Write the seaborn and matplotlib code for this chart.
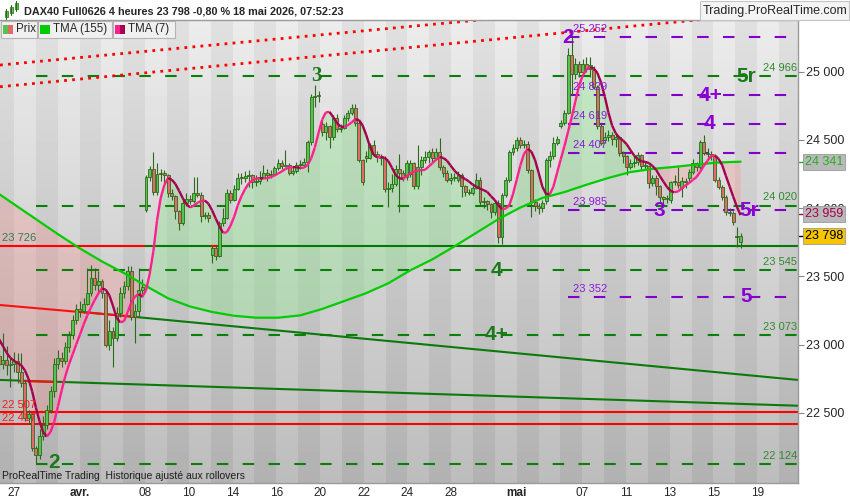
import numpy as np
import pandas as pd
import matplotlib
matplotlib.use("Agg")
import matplotlib.pyplot as plt
import seaborn as sns
from matplotlib.collections import LineCollection
from matplotlib.patches import Rectangle

sns.set_style("white")
plt.rcParams["font.family"] = ["Liberation Sans", "DejaVu Sans"]

# ==========================
# DAX40 4h bars : 25 mars (4 last bars, off-screen) -> 18 mai
# ==========================
opens = [
    23170, 23150, 23130, 23100,                      # 25 mars
    23060, 22990, 22920, 22860, 22890, 22850,        # 26
    22860, 22880, 22800, 22720, 22460, 22490,        # 27
    22240, 22190, 22330, 22410, 22520, 22660,        # 30
    22860, 22900, 22880, 22980, 23070, 23180,        # 31
    23260, 23250, 23300, 23380, 23490, 23440,        # 01 avr
    23470, 23380, 23000, 23100, 23050, 23230,        # 02
    23380, 23430, 23540, 23200, 23250, 23400,        # 07
    23985, 24227, 24290, 24120, 24250, 24260,        # 08
    24240, 24110, 24090, 23980, 23890, 24040,        # 09
    24070, 24050, 24110, 24100, 23940, 23950,        # 10
    23660, 23710, 23650, 23890, 23930, 24110,        # 13
    24060, 24140, 24225, 24220, 24235, 24240,        # 14
    24190, 24200, 24230, 24260, 24240, 24250,        # 15
    24295, 24330, 24310, 24320, 24260, 24270,        # 16
    24320, 24320, 24340, 24485, 24814, 24820,        # 17
    24620, 24560, 24600, 24520, 24660, 24580,        # 20
    24590, 24660, 24700, 24735, 24625, 24355,        # 21
    24380, 24370, 24460, 24400, 24380, 24365,        # 22
    24140, 24150, 24180, 24290, 24260, 24230,        # 23
    24250, 24330, 24160, 24300, 24350, 24375,        # 24
    24410, 24370, 24410, 24300, 24260, 24210,        # 27
    24220, 24210, 24240, 24160, 24120, 24115,        # 28
    24150, 24210, 24045, 24050, 24030, 23970,        # 29
    24040, 23790, 24095, 24205, 24410, 24440,        # 30
    24500, 24460, 24470, 24280, 24045, 24020,        # 04 mai
    24000, 24050, 24350, 24380, 24475, 24600,        # 05
    24625, 24700, 25120, 24980, 25060, 25000,        # 06
    25060, 25020, 25010, 24890, 24600, 24500,        # 07
    24520, 24540, 24510, 24520, 24405, 24380,        # 08
    24300, 24330, 24340, 24390, 24310, 24310,        # 11
    24185, 24220, 24160, 24085, 24070, 24060,        # 12
    24190, 24195, 24150, 24200, 24220, 24265,        # 13
    24330, 24300, 24485, 24405, 24400, 24380,        # 14
    24210, 24155, 24085, 23975, 23965, 23795,        # 15
    23755,                                           # 18
]
highs = [
    23200, 23180, 23160, 23130,
    23090, 23020, 22960, 23085, 22990, 22900,
    22950, 22940, 22940, 22740, 22520, 22500,
    22260, 22380, 22480, 22560, 22700, 22900,
    22960, 22950, 23020, 23100, 23220, 23300,
    23320, 23340, 23560, 23585, 23560, 23540,
    23480, 23400, 23180, 23130, 23280, 23420,
    23470, 23580, 23580, 23300, 23560, 23480,
    24240, 24310, 24412, 24330, 24290, 24280,
    24250, 24140, 24100, 23990, 24060, 24110,
    24100, 24228, 24230, 24120, 23970, 23970,
    23726, 23726, 23910, 24000, 24140, 24130,
    24170, 24260, 24260, 24270, 24280, 24250,
    24240, 24270, 24316, 24290, 24280, 24310,
    24360, 24350, 24427, 24330, 24300, 24340,
    24350, 24370, 24500, 24840, 24902, 24860,
    24640, 24630, 24610, 24680, 24690, 24620,
    24680, 24720, 24760, 24760, 24640, 24360,
    24420, 24480, 24500, 24420, 24400, 24380,
    24190, 24250, 24320, 24400, 24280, 24350,
    24350, 24340, 24463, 24380, 24420, 24430,
    24440, 24440, 24514, 24320, 24280, 24260,
    24260, 24270, 24260, 24170, 24140, 24170,
    24260, 24230, 24080, 24060, 24040, 24060,
    24060, 24110, 24230, 24430, 24470, 24520,
    24520, 24500, 24490, 24290, 24070, 24040,
    24060, 24370, 24420, 24520, 24530, 24650,
    24720, 25175, 25252, 25100, 25080, 25090,
    25105, 25110, 25040, 24900, 24620, 24560,
    24570, 24560, 24550, 24530, 24420, 24390,
    24360, 24380, 24410, 24400, 24340, 24320,
    24240, 24240, 24170, 24090, 24100, 24200,
    24240, 24300, 24230, 24220, 24290, 24360,
    24340, 24500, 24536, 24440, 24420, 24400,
    24230, 24170, 24100, 24000, 23980, 23862,
    23820,
]
lows = [
    23120, 23090, 23070, 23030,
    22960, 22890, 22800, 22820, 22780, 22690,
    22800, 22720, 22690, 22440, 22420, 22220,
    22124, 22160, 22300, 22380, 22500, 22620,
    22820, 22840, 22860, 22950, 23040, 23150,
    23200, 23230, 23290, 23360, 23400, 23380,
    23340, 22980, 22960, 22840, 23030, 23200,
    23340, 23400, 23180, 23010, 23200, 23350,
    23970, 24200, 24100, 24100, 24200, 24180,
    24080, 24060, 23920, 23840, 23880, 24020,
    24030, 24040, 24080, 23900, 23920, 23900,
    23600, 23620, 23640, 23870, 23920, 24040,
    24050, 24130, 24180, 24190, 24155, 24150,
    24160, 24180, 24220, 24200, 24220, 24240,
    24280, 24290, 24300, 24240, 24240, 24260,
    24290, 24300, 24264, 24460, 24741, 24780,
    24530, 24500, 24441, 24500, 24560, 24560,
    24580, 24640, 24680, 24600, 24340, 24170,
    24340, 24360, 24380, 24340, 24320, 24120,
    24008, 24120, 24160, 23972, 24200, 24210,
    24230, 24140, 24140, 24240, 24330, 24330,
    24340, 24350, 24280, 24230, 24190, 24180,
    24200, 24190, 24081, 24090, 24100, 24100,
    24140, 24020, 24000, 23990, 23930, 23950,
    23745, 23740, 24080, 24190, 24390, 24420,
    24440, 24440, 24260, 23935, 23980, 23960,
    23970, 24030, 24300, 24360, 24460, 24590,
    24610, 24690, 24830, 24950, 24960, 24980,
    25000, 24960, 24870, 24580, 24460, 24480,
    24490, 24460, 24450, 24380, 24330, 24240,
    24290, 24300, 24320, 24280, 24290, 24150,
    24160, 24100, 24045, 24030, 24040, 24040,
    24170, 24150, 24080, 24150, 24200, 24250,
    24270, 24290, 24390, 24370, 24350, 24190,
    24140, 24060, 23950, 23940, 23880, 23716,
    23710,
]
closes = [
    23150, 23130, 23100, 23060,
    22990, 22920, 22860, 22890, 22850, 22860,
    22880, 22800, 22720, 22460, 22490, 22240,
    22190, 22330, 22410, 22520, 22660, 22860,
    22900, 22880, 22980, 23070, 23180, 23260,
    23250, 23300, 23380, 23490, 23440, 23470,
    23380, 23000, 23100, 23050, 23230, 23380,
    23430, 23540, 23200, 23250, 23400, 23420,
    24227, 24290, 24120, 24250, 24260, 24240,
    24110, 24090, 23980, 23890, 24040, 24070,
    24050, 24110, 24100, 23940, 23950, 23930,
    23710, 23650, 23890, 23930, 24110, 24060,
    24140, 24225, 24220, 24235, 24240, 24190,
    24200, 24230, 24260, 24240, 24250, 24295,
    24330, 24310, 24320, 24260, 24270, 24320,
    24320, 24340, 24485, 24814, 24820, 24830,
    24560, 24600, 24520, 24660, 24580, 24590,
    24660, 24700, 24735, 24625, 24355, 24195,
    24370, 24460, 24400, 24380, 24365, 24140,
    24150, 24180, 24290, 24260, 24230, 24330,
    24330, 24160, 24300, 24350, 24375, 24410,
    24370, 24410, 24300, 24260, 24210, 24220,
    24230, 24240, 24160, 24120, 24115, 24150,
    24210, 24045, 24050, 24030, 23970, 24040,
    23790, 24095, 24205, 24410, 24440, 24500,
    24460, 24470, 24280, 24045, 24020, 24000,
    24040, 24350, 24380, 24475, 24510, 24625,
    24700, 25120, 24980, 25060, 25000, 25060,
    25020, 25050, 24890, 24600, 24480, 24520,
    24540, 24510, 24520, 24405, 24380, 24300,
    24330, 24340, 24390, 24310, 24320, 24185,
    24220, 24160, 24085, 24070, 24075, 24190,
    24195, 24170, 24200, 24190, 24265, 24330,
    24300, 24485, 24405, 24400, 24380, 24210,
    24155, 24085, 23975, 23965, 23900, 23790,
    23798,
]
first_bar = -10          # bar 0 = first bar of 27 mars

# TMA(155), one reading per trading day (26 mars .. 18 mai)
tma155_day = [24140, 24030, 23920, 23810, 23705, 23610, 23525, 23430, 23340,
              23280, 23240, 23212, 23198, 23198, 23215, 23262, 23320, 23378,
              23450, 23545, 23625, 23720, 23820, 23920, 24005, 24075, 24118,
              24172, 24222, 24265, 24288, 24303, 24320, 24335, 24341]

# date axis : trading day index (27 mars = 0) and label
label_days = [0, 3, 6, 8, 10, 12, 14, 16, 18, 20, 23, 26, 28, 30, 32, 34]
label_text = ["27", "avr.", "08", "10", "14", "16", "20", "22", "24", "28",
              "mai", "07", "11", "13", "15", "19"]

# levels
green_levels = [24966, 24020, 23545, 23073, 22124]
purple_levels = [25252, 24829, 24619, 24407, 23985, 23352]
red_levels = [22507, 22417]
support_level = 23726
last_price = 23798
last_tma155 = 24341
last_tma7 = 23959

green_wave_text = ["3", "5r", "4", "4+", "2"]
green_wave_bar = [82.3, 199.5, 131.6, 131.6, 10.9]
green_wave_price = [24966, 24966, 23545, 23073, 22140]
purple_wave_text = ["2", "3", "4+", "4", "5r", "5"]
purple_wave_bar = [150.9, 175.8, 189.7, 189.4, 200.3, 199.5]
purple_wave_price = [25252, 23985, 24829, 24619, 23985, 23352]

# trend lines (bar, price)
dotted_a = ([-3.79, 213.65], [25049, 25599])
dotted_b = ([-3.79, 213.65], [24890, 25450])
trend_c = ([18.0, 213.65], [23242, 22742])
trend_c_red = ([-3.79, 33.5], [23291, 23203])
trend_d = ([-3.79, 213.65], [22742, 22553])
trend_d_red = ([1.66, 11.7], [22734, 22726])

# ==========================
# layout helpers
# ==========================
W, H = 850, 500
px_per_bar, bar_px0 = 3.67, 13.9
px_per_day, day_px0 = 21.86, 14.0
x_lo, x_hi = -bar_px0 / px_per_bar, (798 - bar_px0) / px_per_bar
y_lo, y_hi = 21987, 25379


def day_pos(k):
    return (day_px0 + px_per_day * k - bar_px0) / px_per_bar


def fx(px):
    return px / W


def fy(py):
    return 1 - py / H


def fmt(v):
    return f"{v:,}".replace(",", " ")


df = pd.DataFrame({"open": opens, "high": highs, "low": lows, "close": closes})
df["bar"] = np.arange(len(df)) + first_bar
df["tma7"] = df["close"].rolling(4).mean().rolling(4).mean()

fig = plt.figure(figsize=(W / 100, H / 100), dpi=100, facecolor="white")
ax = fig.add_axes([0, 17 / H, 798 / W, 463 / H])

# background : day stripes with vertical gradient
n_days = 37
shade = np.linspace(0.74, 0.925, 256)[:, None]
even = (np.arange(-1, n_days - 1) % 2 == 0)[None, :]
bg = np.where(even, shade, shade - 0.045)
ax.imshow(bg, cmap="gray", vmin=0, vmax=1, origin="lower", aspect="auto",
          interpolation="nearest", zorder=0,
          extent=(day_pos(-1), day_pos(n_days - 1), y_lo, y_hi))

# TMA fills
valid = df.dropna(subset=["tma7"])
tma155_bar = [6 * k for k in range(-1, 34)]
t155 = np.interp(valid["bar"], tma155_bar, tma155_day)
t7 = valid["tma7"].values
ax.fill_between(valid["bar"], t7, t155, where=t7 >= t155, interpolate=True,
                color=(0.55, 0.9, 0.55), alpha=0.38, lw=0, zorder=1)
ax.fill_between(valid["bar"], t7, t155, where=t7 < t155, interpolate=True,
                color=(1.0, 0.5, 0.5), alpha=0.26, lw=0, zorder=1)

# horizontal levels
dash_g = (0, (5.5, 6.9))
ax.hlines(green_levels, 6.0, x_hi, colors="#0a800a", lw=1.5, linestyles=[dash_g], zorder=2)
ax.hlines(purple_levels, 151.0, x_hi, colors="#8000cc", lw=1.5, linestyles=[dash_g], zorder=2)
ax.hlines(red_levels, x_lo, x_hi, colors="#ff0000", lw=1.5, zorder=2)
ax.hlines(support_level, 35.7, x_hi, colors="#007a00", lw=1.5, zorder=2)
ax.hlines(support_level, x_lo, 35.7, colors="#ff0000", lw=1.5, zorder=2)
ax.hlines(support_level, 53.7, 55.3, colors="#ff0000", lw=1.5, zorder=2)

# trend lines
ax.plot(*dotted_a, color="#ff0000", lw=2, ls=(0, (1, 1.9)), zorder=2)
ax.plot(*dotted_b, color="#ff0000", lw=2, ls=(0, (1, 1.9)), zorder=2)
ax.plot(*trend_c, color="#0b7a0b", lw=1.5, zorder=2)
ax.plot(*trend_c_red, color="#ff1010", lw=1.5, zorder=2)
ax.plot(*trend_d, color="#0b7a0b", lw=1.5, zorder=2)
ax.plot(*trend_d_red, color="#ff1010", lw=1.5, zorder=2)

# candles
edge = "#2a6a1a"
up = df["close"] >= df["open"]
ax.vlines(df["bar"], df["low"], df["high"], colors=edge, lw=0.8, zorder=3)
ax.bar(df["bar"], np.maximum((df["close"] - df["open"]).abs(), 6),
       bottom=np.minimum(df["open"], df["close"]), width=0.8,
       color=np.where(up, "#55c44c", "#e36a6a"), edgecolor=edge,
       linewidth=0.6, zorder=3.5)

# TMA(155)
sns.lineplot(x=tma155_bar, y=tma155_day, ax=ax, color="#00cc00", lw=1.6, zorder=4)

# TMA(7), pink when rising, maroon when falling
pts = np.column_stack([valid["bar"].values, t7])
segs = np.stack([pts[:-1], pts[1:]], axis=1)
cols = np.where(np.diff(t7) >= 0, "#ff1f8e", "#a3004f")
ax.add_collection(LineCollection(segs, colors=cols, lw=1.7, zorder=4.5))

# level labels
ytr = ax.get_yaxis_transform()
for lv in green_levels:
    ax.text(0.9985, lv + 60, fmt(lv), transform=ytr, ha="right", va="center",
            fontsize=8, color="#2f8a2f", zorder=6)
for lv in purple_levels:
    ax.text(152.3, lv + 58, fmt(lv), ha="left", va="center",
            fontsize=8, color="#8a1ad6", zorder=6)
ax.text(x_lo + 0.5, support_level + 58, fmt(support_level), ha="left", va="center",
        fontsize=8, color="#2f7f55", zorder=6)
for lv, off in zip(red_levels, [51, 44]):
    ax.text(x_lo + 0.5, lv + off, fmt(lv), ha="left", va="center",
            fontsize=8, color="#ff1a1a", zorder=6)

for t, b, p in zip(green_wave_text, green_wave_bar, green_wave_price):
    fam = ["Liberation Serif"] if t == "3" else ["Liberation Sans"]
    ax.text(b, p, t, ha="center", va="center", fontsize=15, fontweight="bold",
            color="#1a7a1a", family=fam, zorder=6)
for t, b, p in zip(purple_wave_text, purple_wave_bar, purple_wave_price):
    ax.text(b, p, t, ha="center", va="center", fontsize=15, fontweight="bold",
            color="#8a00d4", zorder=6)

ax.text(0.003, 0.004, "ProRealTime Trading  Historique ajusté aux rollovers",
        transform=ax.transAxes, fontsize=7.5, color="#1e1e1e", va="bottom", zorder=6)

# axes
ax.set_xlim(x_lo, x_hi)
ax.set_ylim(y_lo, y_hi)
ax.set_xlabel("")
ax.set_ylabel("")
ax.yaxis.tick_right()
yt = [22500, 23000, 23500, 24000, 24500, 25000]
ax.set_yticks(yt)
ax.set_yticklabels([fmt(v) for v in yt])
ax.tick_params(axis="y", length=4, width=0.8, color="#888888", pad=2, labelsize=9)
ax.set_xticks([day_pos(k) for k in label_days])
ax.set_xticklabels(label_text)
ax.set_xticks([day_pos(k) for k in range(0, 36, 2)], minor=True)
ax.tick_params(axis="x", which="major", length=0, pad=3, labelsize=8.5)
ax.tick_params(axis="x", which="minor", length=3.5, width=0.8, color="#888888")
for lab in ax.get_xticklabels():
    if lab.get_text() in ("avr.", "mai"):
        lab.set_fontweight("bold")
ax.spines["left"].set_visible(False)
for s in ("top", "right", "bottom"):
    ax.spines[s].set_color("#9a9a9a")
    ax.spines[s].set_linewidth(1)

# right side value boxes
for val, tc, fc, mk in [(last_tma155, "#22b022", "#b9b9b9", "#22b022"),
                        (last_tma7, "#a3004f", "#b9b9b9", "#a3004f"),
                        (last_price, "#000000", "#f7c600", "#000000")]:
    ax.plot([1.0, 1.0065], [val, val], transform=ytr, color=mk, lw=1, clip_on=False)
    ax.text(1.0085, val, fmt(val), transform=ytr, ha="left", va="center",
            fontsize=9, color=tc, zorder=10, clip_on=False,
            bbox=dict(boxstyle="square,pad=0.15", fc=fc, ec="#9a9a9a", lw=0.6))

# header
fig.text(fx(24), fy(12), "DAX40 Full0626 4 heures 23 798 -0,80 % 18 mai 2026, 07:52:23",
         fontsize=7.8, fontweight="bold", va="center", ha="left")
for cx, b0, b1, w0, w1 in [(6, 11, 17, 9, 19), (11, 7, 13, 5, 15), (16, 3, 9, 1, 11)]:
    fig.add_artist(plt.Line2D([fx(cx), fx(cx)], [fy(w1), fy(w0)], color=edge,
                              lw=0.8, transform=fig.transFigure))
    fig.add_artist(Rectangle((fx(cx - 1.5), fy(b1)), 3 / W, (b1 - b0) / H,
                             transform=fig.transFigure, fc="#55c44c", ec=edge, lw=0.5))

fig.add_artist(Rectangle((fx(700), fy(20)), 149 / W, 19 / H, transform=fig.transFigure,
                         fc="#f4f4f4", ec="#c4c4c4", lw=0.8))
fig.text(fx(775), fy(11), "Trading.ProRealTime.com", fontsize=9, ha="center", va="center")

# legend row
for x0, x1, label, c1, c2 in [(1, 37, "Prix", "#55c44c", "#e36a6a"),
                              (38, 112, "TMA (155)", "#00cc00", "#00cc00"),
                              (113, 175, "TMA (7)", "#ff1f8e", "#a3004f")]:
    fig.add_artist(Rectangle((fx(x0), fy(38)), (x1 - x0) / W, 17 / H,
                             transform=fig.transFigure, fc="#f0f0f0", ec="#b4b4b4", lw=0.8))
    fig.add_artist(Rectangle((fx(x0 + 2), fy(34)), 5 / W, 9 / H,
                             transform=fig.transFigure, fc=c1, ec="none"))
    fig.add_artist(Rectangle((fx(x0 + 7), fy(34)), 5 / W, 9 / H,
                             transform=fig.transFigure, fc=c2, ec="none"))
    fig.text(fx(x0 + 15), fy(29.5), label, fontsize=8.3, ha="left", va="center")

plt.savefig("out.png", dpi=100)
